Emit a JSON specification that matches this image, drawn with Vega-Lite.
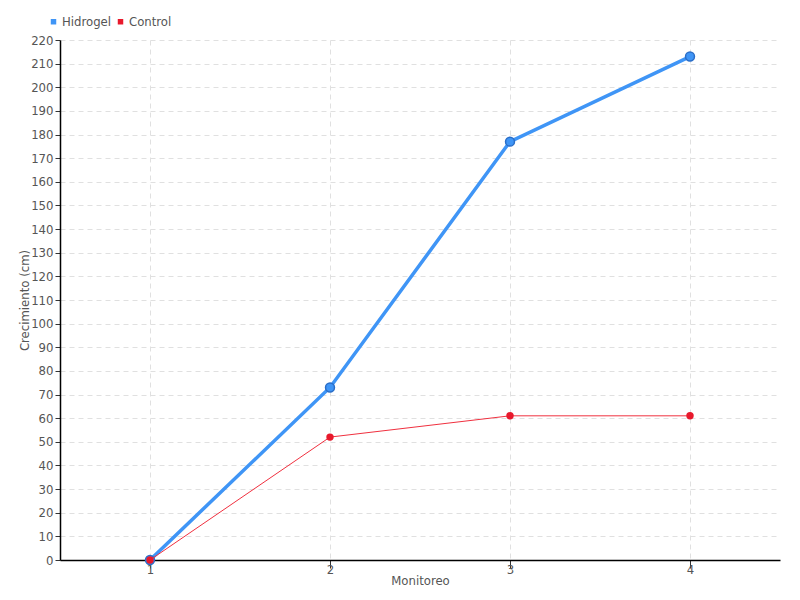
{
  "$schema": "https://vega.github.io/schema/vega-lite/v6.json",
  "width": 720,
  "height": 520,
  "autosize": {"type": "none"},
  "padding": {"left": 60, "top": 40, "right": 20, "bottom": 40},
  "background": "white",
  "config": {
    "font": "DejaVu Sans Condensed",
    "view": {"stroke": null},
    "axis": {
      "labelFont": "DejaVu Sans Condensed",
      "titleFont": "DejaVu Sans Condensed",
      "labelFontSize": 13,
      "labelColor": "#555555",
      "titleFontSize": 13,
      "titleFontWeight": "normal",
      "titleColor": "#555555",
      "domainColor": "#000000",
      "domainWidth": 1.5,
      "tickColor": "#333333",
      "gridColor": "#e0e0e0",
      "gridDash": [5, 4],
      "gridWidth": 1
    },
    "legend": {
      "title": null,
      "orient": "none",
      "legendX": -13,
      "legendY": -25,
      "direction": "horizontal",
      "symbolType": "square",
      "symbolSize": 30,
      "symbolStrokeWidth": 0,
      "labelFontSize": 13,
      "labelColor": "#555555",
      "labelFont": "DejaVu Sans Condensed",
      "columnPadding": 2,
      "labelOffset": 2
    }
  },
  "data": {
    "values": [
      {"monitoreo": "1", "series": "Hidrogel", "valor": 0},
      {"monitoreo": "2", "series": "Hidrogel", "valor": 73},
      {"monitoreo": "3", "series": "Hidrogel", "valor": 177},
      {"monitoreo": "4", "series": "Hidrogel", "valor": 213},
      {"monitoreo": "1", "series": "Control", "valor": 0},
      {"monitoreo": "2", "series": "Control", "valor": 52},
      {"monitoreo": "3", "series": "Control", "valor": 61},
      {"monitoreo": "4", "series": "Control", "valor": 61}
    ]
  },
  "encoding": {
    "x": {
      "field": "monitoreo",
      "type": "ordinal",
      "scale": {"type": "point", "padding": 0.5},
      "axis": {"title": "Monitoreo", "labelAngle": 0, "grid": true, "tickSize": 8, "titlePadding": -2, "labelPadding": -5}
    },
    "y": {
      "field": "valor",
      "type": "quantitative",
      "scale": {"domain": [0, 220], "nice": false},
      "axis": {"title": "Crecimiento (cm)", "values": [0,10,20,30,40,50,60,70,80,90,100,110,120,130,140,150,160,170,180,190,200,210,220], "tickSize": 5, "labelPadding": 2, "titlePadding": -1}
    },
    "color": {
      "field": "series",
      "type": "nominal",
      "scale": {"domain": ["Hidrogel", "Control"], "range": ["#3f95f6", "#e8192c"]}
    }
  },
  "layer": [
    {
      "transform": [{"filter": "datum.series === 'Hidrogel'"}],
      "mark": {"type": "line", "strokeWidth": 3.5}
    },
    {
      "transform": [{"filter": "datum.series === 'Hidrogel'"}],
      "mark": {"type": "point", "filled": true, "opacity": 1, "size": 80, "stroke": "#2a6ec8", "strokeWidth": 1.5}
    },
    {
      "transform": [{"filter": "datum.series === 'Control'"}],
      "mark": {"type": "line", "strokeWidth": 1, "stroke": "#f0303f"}
    },
    {
      "transform": [{"filter": "datum.series === 'Control'"}],
      "mark": {"type": "point", "filled": true, "opacity": 1, "size": 55}
    }
  ]
}
